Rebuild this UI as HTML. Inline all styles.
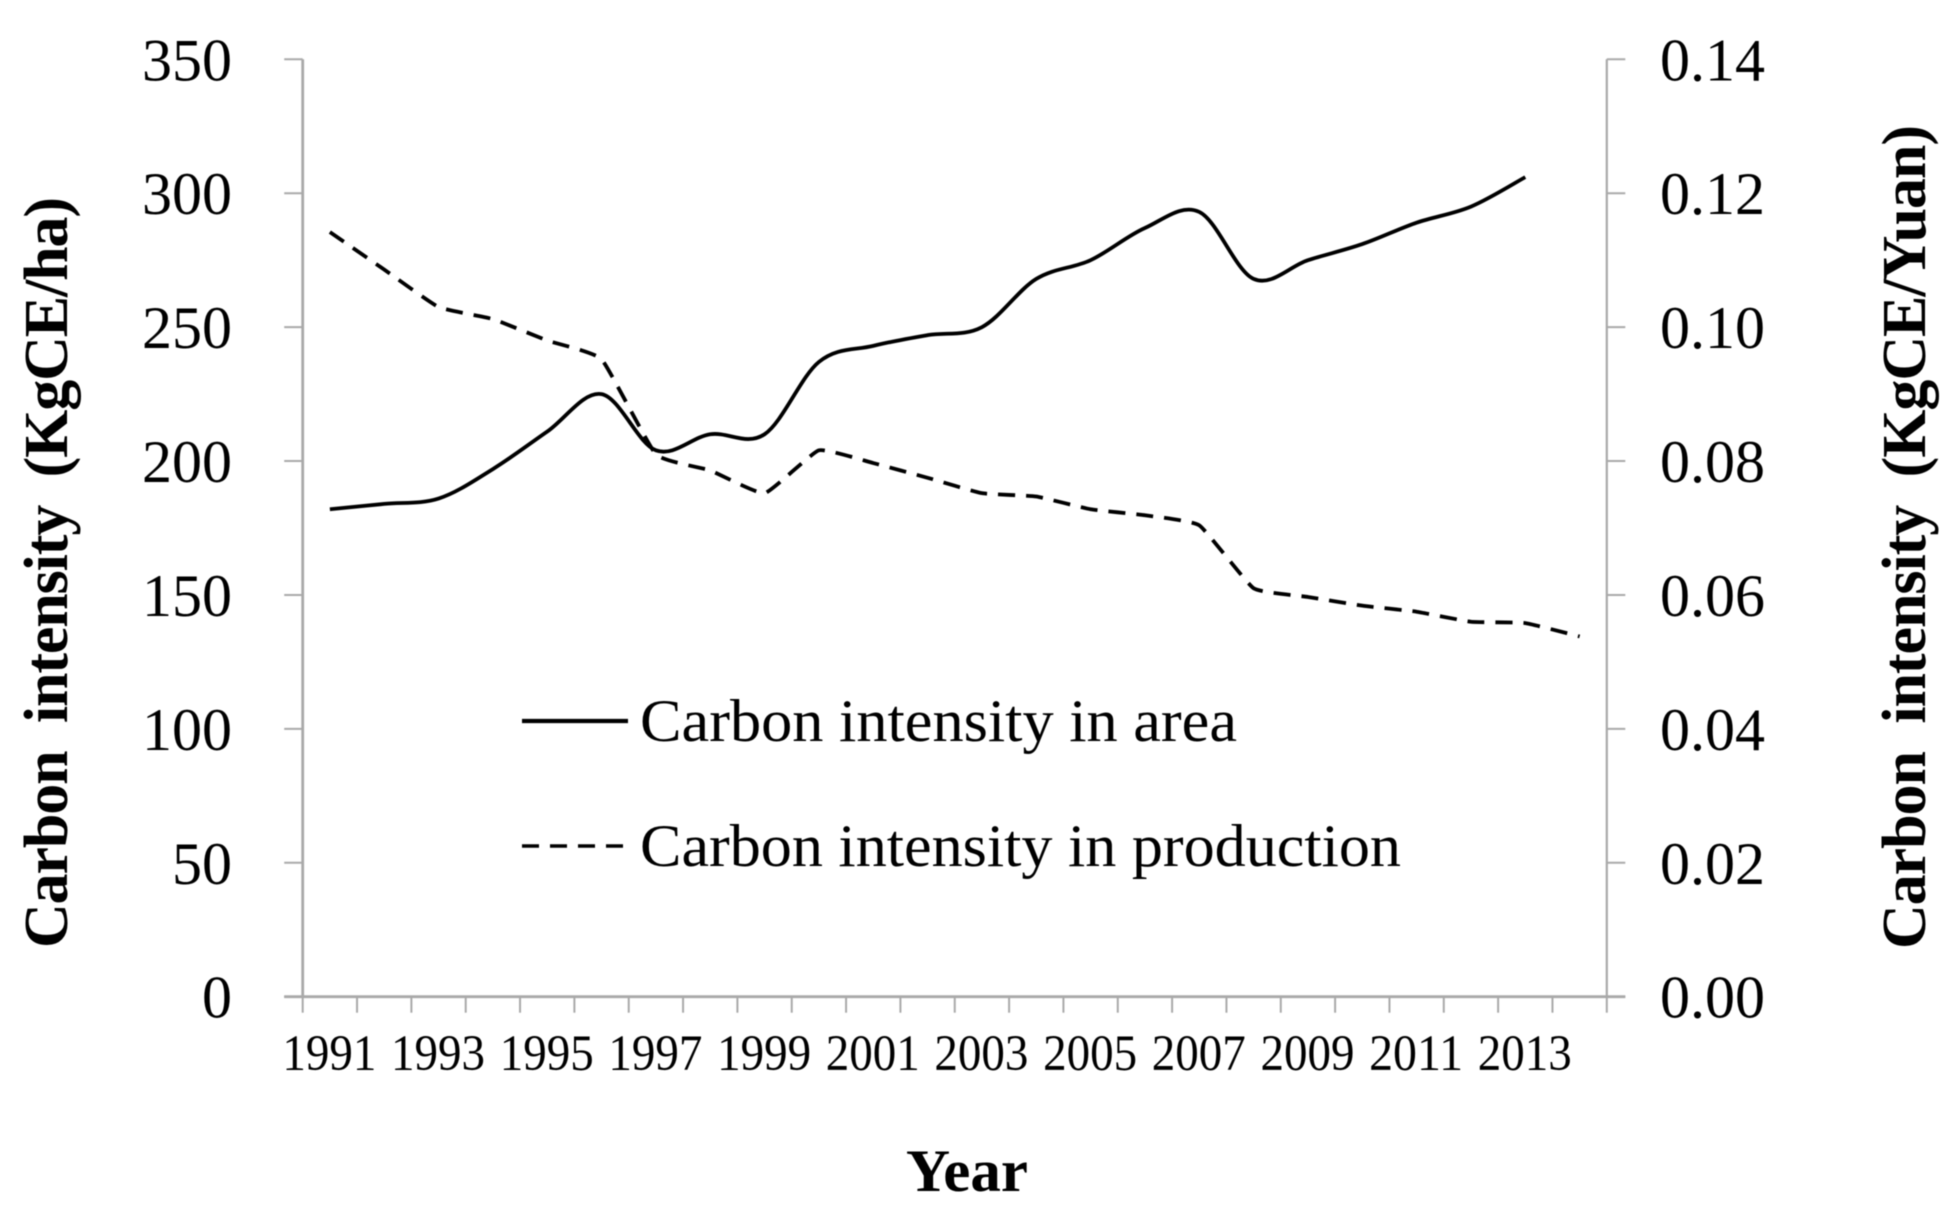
<!DOCTYPE html>
<html lang="en">
<head>
<meta charset="utf-8">
<title>Carbon intensity chart</title>
<style>
html,body{margin:0;padding:0;background:#fff;width:1960px;height:1211px;overflow:hidden}
svg{display:block;filter:blur(0.6px)}
text{font-family:"Liberation Serif",serif;fill:#000}
</style>
</head>
<body>
<svg id="chart" xmlns="http://www.w3.org/2000/svg" width="1960" height="1211" viewBox="0 0 1960 1211">
<rect x="0" y="0" width="1960" height="1211" fill="#fff"/>
<text transform="translate(67,948) rotate(-90)" font-size="62" font-weight="bold" textLength="751" lengthAdjust="spacing" style="word-spacing:14px">Carbon intensity (KgCE/ha)</text>
<text transform="translate(1925,949) rotate(-90)" font-size="62" font-weight="bold" textLength="824" lengthAdjust="spacing" style="word-spacing:14px">Carbon intensity (KgCE/Yuan)</text>
<text x="906" y="1191" font-size="60" font-weight="bold" textLength="122" lengthAdjust="spacingAndGlyphs">Year</text>
<line x1="522" y1="721" x2="628" y2="721" stroke="#000" stroke-width="4.2"/>
<text x="640" y="741" font-size="60" textLength="597" lengthAdjust="spacingAndGlyphs">Carbon intensity in area</text>
<line x1="522" y1="846" x2="624" y2="846" stroke="#000" stroke-width="3.6" stroke-dasharray="17 11"/>
<text x="640" y="866" font-size="60" textLength="761" lengthAdjust="spacingAndGlyphs">Carbon intensity in production</text>
<g id="axes"></g>
<g id="marks"></g>
</svg>
<script>
const categories = [1991,1992,1993,1994,1995,1996,1997,1998,1999,2000,2001,2002,2003,2004,2005,2006,2007,2008,2009,2010,2011,2012,2013,2014];
const xTickLabels = ['1991','1993','1995','1997','1999','2001','2003','2005','2007','2009','2011','2013'];
const leftTickLabels = ['0','50','100','150','200','250','300','350'];
const rightTickLabels = ['0.00','0.02','0.04','0.06','0.08','0.10','0.12','0.14'];
const areaIntensity = [182,184,186,197,211,225,204,210,210,237,243,247,250,268,275,287,293,268,275,281,289,295,306];
const productionIntensity = [0.1142,0.1086,0.1030,0.1012,0.0980,0.0952,0.0810,0.0786,0.0752,0.0816,0.0797,0.0775,0.0752,0.0747,0.0728,0.0719,0.0704,0.0610,0.0597,0.0584,0.0575,0.0560,0.0558,0.0538];
const leftMax = 350;
const rightMax = 0.14;

const SVGNS = 'http://www.w3.org/2000/svg';
const plotLeft = 302.7, plotRight = 1606.8, plotTop = 59.3, plotBottom = 996.7;
const axes = document.getElementById('axes');
const marks = document.getElementById('marks');
const xBand = (plotRight - plotLeft) / categories.length;
function xEdge(i){ return plotLeft + i * xBand; }
function xPoint(i){ return xEdge(i + 0.5); }
function yLeft(v){ return plotBottom - (v / leftMax) * (plotBottom - plotTop); }
function yRight(v){ return plotBottom - (v / rightMax) * (plotBottom - plotTop); }

function makeLine(x1, y1, x2, y2, w){
  const l = document.createElementNS(SVGNS, 'line');
  l.setAttribute('x1', x1);
  l.setAttribute('y1', y1);
  l.setAttribute('x2', x2);
  l.setAttribute('y2', y2);
  l.setAttribute('stroke', '#a9a9a9');
  l.setAttribute('stroke-width', w);
  axes.appendChild(l);
  return l;
}
function makeText(str, x, y, size, anchor){
  const t = document.createElementNS(SVGNS, 'text');
  t.setAttribute('x', x);
  t.setAttribute('y', y);
  t.setAttribute('font-size', size);
  t.setAttribute('text-anchor', anchor);
  t.textContent = str;
  axes.appendChild(t);
  return t;
}
function smoothPath(points, k){
  let d = 'M' + points[0][0].toFixed(2) + ' ' + points[0][1].toFixed(2);
  for (let i = 0; i < points.length - 1; i++){
    const p0 = points[Math.max(i - 1, 0)];
    const p1 = points[i];
    const p2 = points[i + 1];
    const p3 = points[Math.min(i + 2, points.length - 1)];
    const c1x = p1[0] + (p2[0] - p0[0]) * k;
    const c1y = p1[1] + (p2[1] - p0[1]) * k;
    const c2x = p2[0] - (p3[0] - p1[0]) * k;
    const c2y = p2[1] - (p3[1] - p1[1]) * k;
    d += 'C' + c1x.toFixed(2) + ' ' + c1y.toFixed(2) + ' ' + c2x.toFixed(2) + ' ' + c2y.toFixed(2) + ' ' + p2[0].toFixed(2) + ' ' + p2[1].toFixed(2);
  }
  return d;
}

const leftAxis = makeLine(plotLeft, plotTop, plotLeft, plotBottom, 2.8);


const rightAxis = makeLine(plotRight, plotTop, plotRight, plotBottom, 2.2);


const xAxis = makeLine(plotLeft - 18.5, plotBottom, plotRight + 18.5, plotBottom, 2.8);



leftTickLabels.forEach(function(label, i){
  const v = leftMax * i / (leftTickLabels.length - 1);
  const y = yLeft(v);
  const tick = makeLine(plotLeft - 18.5, y, plotLeft, y, 2);
  
  
  const text = makeText(label, 232, y + 21, 60, 'end');
  
  
});
rightTickLabels.forEach(function(label, i){
  const v = rightMax * i / (rightTickLabels.length - 1);
  const y = yRight(v);
  const tick = makeLine(plotRight, y, plotRight + 18.5, y, 2);
  
  
  const text = makeText(label, 1660, y + 21, 60, 'start');
  
  
});
for (let i = 0; i <= categories.length; i++){
  const tick = makeLine(xEdge(i), plotBottom, xEdge(i), plotBottom + 16, 2);
  
  
}
xTickLabels.forEach(function(label){
  const idx = categories.indexOf(Number(label));
  const text = makeText(label, xPoint(idx) - 0.5, 1070, 51, 'middle');
  text.setAttribute('textLength', 94);
  text.setAttribute('lengthAdjust', 'spacingAndGlyphs');
  
  
});

const areaPath = document.createElementNS(SVGNS, 'path');
areaPath.setAttribute('d', smoothPath(areaIntensity.map(function(v, i){ return [xPoint(i), yLeft(v)]; }), 1 / 6));
areaPath.setAttribute('fill', 'none');
areaPath.setAttribute('stroke', '#000');
areaPath.setAttribute('stroke-width', '3.8');


marks.appendChild(areaPath);

const productionPath = document.createElementNS(SVGNS, 'path');
productionPath.setAttribute('d', smoothPath(productionIntensity.map(function(v, i){ return [xPoint(i), yRight(v)]; }), 1 / 16));
productionPath.setAttribute('fill', 'none');
productionPath.setAttribute('stroke', '#000');
productionPath.setAttribute('stroke-width', '3.8');
productionPath.setAttribute('stroke-dasharray', '17 11');


marks.appendChild(productionPath);
</script>
</body>
</html>
